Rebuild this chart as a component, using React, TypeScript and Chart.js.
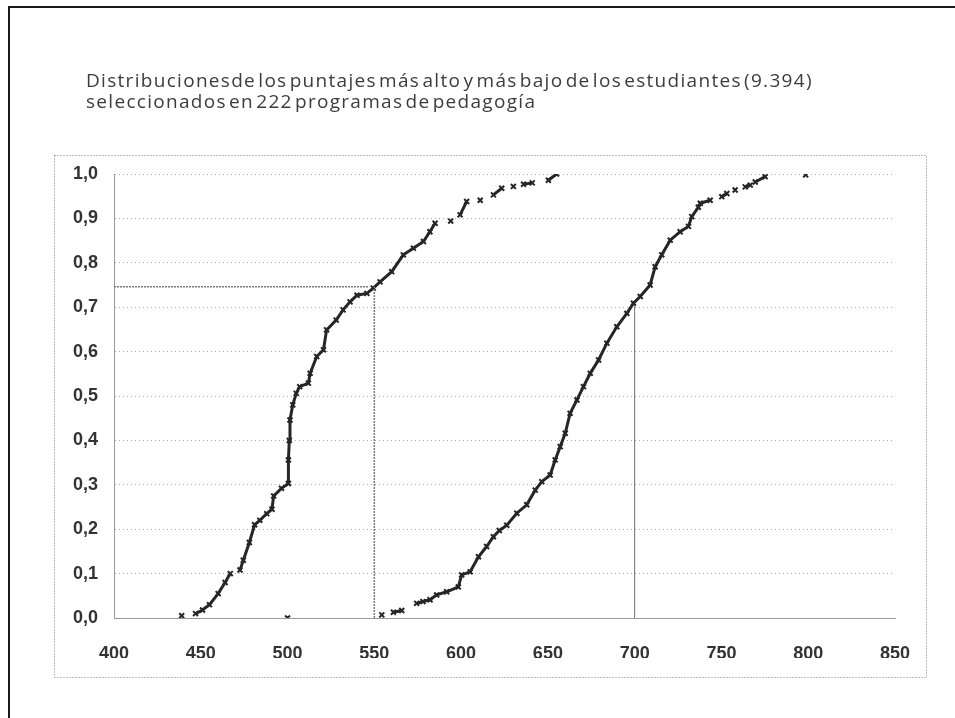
import React, { useEffect, useRef } from "react";
import { Chart, registerables } from "chart.js";

Chart.register(...registerables);

// Title lines
const titleLines = [
  "Distribucionesde los puntajes más alto y más bajo de los estudiantes (9.394)",
  "seleccionados en 222 programas de pedagogía",
];

// Axis ticks
const xTicks = [400, 450, 500, 550, 600, 650, 700, 750, 800, 850];
const yTicks = [0, 0.1, 0.2, 0.3, 0.4, 0.5, 0.6, 0.7, 0.8, 0.9, 1.0];

// Lowest scores (cumulative distribution); null = break in the trace
const lowX = [447, 451, 455, 460, 464, 467, null, 472.6, 474.5, 478, 481, 484, 488, 491, 492, 496.5, 500.5, 500.5, 501, 501.4, 503, 505, 507, 512, 513, 516.8, 520.7, 522.5, 528, 532, 536, 540, 545.7, 549.4, 553.3, 560, 566.7, 572.5, 578.3, 582, 585, null, 594, null, 599.4, 603.2, null, 611, null, 618.6, 623.4, null, 630.1, null, 636, 641, null, 650.3, 655];
const lowY = [0.01, 0.018, 0.03, 0.055, 0.08, 0.1, null, 0.108, 0.13, 0.17, 0.21, 0.22, 0.235, 0.245, 0.275, 0.292, 0.303, 0.356, 0.4, 0.446, 0.48, 0.506, 0.521, 0.529, 0.551, 0.589, 0.604, 0.649, 0.671, 0.694, 0.712, 0.727, 0.731, 0.743, 0.757, 0.78, 0.818, 0.833, 0.848, 0.87, 0.889, null, 0.894, null, 0.908, 0.938, null, 0.941, null, 0.953, 0.968, null, 0.972, null, 0.977, 0.98, null, 0.986, 1.0];

// Highest scores (cumulative distribution); null = break in the trace
const highX = [554.3, null, 561, 565.8, null, 574.4, 578, 582.1, 585.9, 591.7, 598.4, 600.3, 605.2, 610, 614.7, 618.6, 622, 626.3, 632.1, 637.8, 642.7, 646.5, 651.3, 654.2, 657.1, 660, 662.8, 666.7, 670.5, 674.4, 679.2, 684, 689.7, 695.5, 699.3, 703.2, 708.9, 711.8, 715.6, 720.5, 726.2, 731, 732.9, 736.7, 737.8, 743.5, null, 750.2, 753.1, null, 757.9, null, 763.7, 766.6, null, 769.5, 775.2];
const highY = [0.007, null, 0.013, 0.017, null, 0.033, 0.037, 0.041, 0.052, 0.059, 0.07, 0.097, 0.104, 0.138, 0.161, 0.183, 0.197, 0.209, 0.236, 0.255, 0.288, 0.307, 0.322, 0.356, 0.386, 0.416, 0.461, 0.491, 0.521, 0.551, 0.581, 0.619, 0.656, 0.686, 0.709, 0.724, 0.75, 0.791, 0.818, 0.851, 0.87, 0.882, 0.904, 0.925, 0.934, 0.941, null, 0.949, 0.956, null, 0.964, null, 0.971, 0.975, null, 0.982, 0.994];

// Isolated points
const loneX = [439, 500, 798.5];
const loneY = [0.005, 0.0, 0.998];

// Reference lines
const refHX = [400, 547];
const refHY = [0.746, 0.746];
const ref550X = [550, 550];
const ref550Y = [0, 0.746];
const ref700X = [700, 700];
const ref700Y = [0, 0.705];

const toPts = (xs: (number | null)[], ys: (number | null)[]) =>
  xs.map((x, i) => ({ x, y: ys[i] }));

const CURVE = "#262626";

const framePlugin = {
  id: "framePlugin",
  beforeDraw(chart: any) {
    const ctx = chart.ctx as any;
    ctx.save();
    ctx.fillStyle = "#ffffff";
    ctx.fillRect(0, 0, chart.width, chart.height);
    // outer frame (left and top)
    ctx.strokeStyle = "#1a1a1a";
    ctx.lineWidth = 2;
    ctx.beginPath();
    ctx.moveTo(9, chart.height);
    ctx.lineTo(9, 7);
    ctx.lineTo(chart.width, 7);
    ctx.stroke();
    // inner dotted chart-area box
    ctx.strokeStyle = "#7a7a7a";
    ctx.lineWidth = 1;
    ctx.setLineDash([1, 2]);
    ctx.strokeRect(54.5, 155.5, 872, 522);
    ctx.setLineDash([]);
    // title
    ctx.fillStyle = "#3c3c3c";
    ctx.font = "19px 'Open Sans'";
    ctx.letterSpacing = "1.3px";
    ctx.wordSpacing = "-4px";
    ctx.textBaseline = "alphabetic";
    ctx.textAlign = "left";
    ctx.fillText(titleLines[0], 86, 87);
    ctx.fillText(titleLines[1], 86, 108);
    ctx.restore();
  },
};

export default function App() {
  const ref = useRef<HTMLCanvasElement>(null);
  useEffect(() => {
    if (!ref.current) return;
    const curve = (label: string, xs: any[], ys: any[]) => ({
      label,
      data: toPts(xs, ys),
      showLine: true,
      spanGaps: false,
      borderColor: CURVE,
      borderWidth: 3,
      pointStyle: "crossRot",
      pointRadius: 3.5,
      pointBorderWidth: 2,
      pointBorderColor: CURVE,
      pointBackgroundColor: CURVE,
    });
    const chart = new Chart(ref.current, {
      type: "scatter",
      data: {
        datasets: [
          {
            label: "ref550",
            data: toPts(ref550X, ref550Y),
            showLine: true,
            borderColor: "#7a7a7a",
            borderWidth: 1.5,
            borderDash: [2, 1],
            pointRadius: 0,
          },
          {
            label: "refH",
            data: toPts(refHX, refHY),
            showLine: true,
            borderColor: "#7a7a7a",
            borderWidth: 1.5,
            borderDash: [2, 1],
            pointRadius: 0,
          },
          {
            label: "ref700",
            data: toPts(ref700X, ref700Y),
            showLine: true,
            borderColor: "#6f6f6f",
            borderWidth: 1,
            pointRadius: 0,
          },
          curve("Puntaje más bajo", lowX, lowY),
          curve("Puntaje más alto", highX, highY),
          {
            label: "aislados",
            data: toPts(loneX, loneY),
            showLine: false,
            pointStyle: "crossRot",
            pointRadius: 3.5,
            pointBorderWidth: 2,
            pointBorderColor: CURVE,
          },
        ],
      },
      options: {
        responsive: false,
        animation: false,
        layout: { padding: { left: 54, right: 60, top: 174, bottom: 60 } },
        plugins: {
          legend: { display: false },
          title: { display: false },
          tooltip: { enabled: false },
        },
        scales: {
          x: {
            type: "linear",
            min: 400,
            max: 850,
            afterFit: (s: any) => {
              s.height = 40;
            },
            afterBuildTicks: (s: any) => {
              s.ticks = xTicks.map((v) => ({ value: v }));
            },
            ticks: {
              padding: 25,
              color: "#333333",
              font: { family: "'Liberation Sans'", size: 18, weight: "bold" },
              maxRotation: 0,
            },
            grid: { display: false, drawTicks: false },
            border: { display: true, color: "#9a9a9a", width: 1, dash: [1, 2] },
          },
          y: {
            type: "linear",
            min: 0,
            max: 1,
            afterFit: (s: any) => {
              s.width = 60;
            },
            afterBuildTicks: (s: any) => {
              s.ticks = yTicks.map((v) => ({ value: v }));
            },
            ticks: {
              padding: 16,
              color: "#333333",
              font: { family: "'Liberation Sans'", size: 18, weight: "bold" },
              callback: (v: any) => Number(v).toFixed(1).replace(".", ","),
            },
            grid: { display: true, drawTicks: false, color: "#a8a8a8", lineWidth: 1 },
            border: { display: true, color: "#9a9a9a", width: 1, dash: [1, 3] },
          },
        },
      },
      plugins: [framePlugin],
    });
    return () => chart.destroy();
  }, []);
  return (
    <div style={{ position: "fixed", left: 0, top: 0, width: 955, height: 718, background: "#fff" }}>
      <canvas ref={ref} width={955} height={718} style={{ display: "block" }} />
    </div>
  );
}
